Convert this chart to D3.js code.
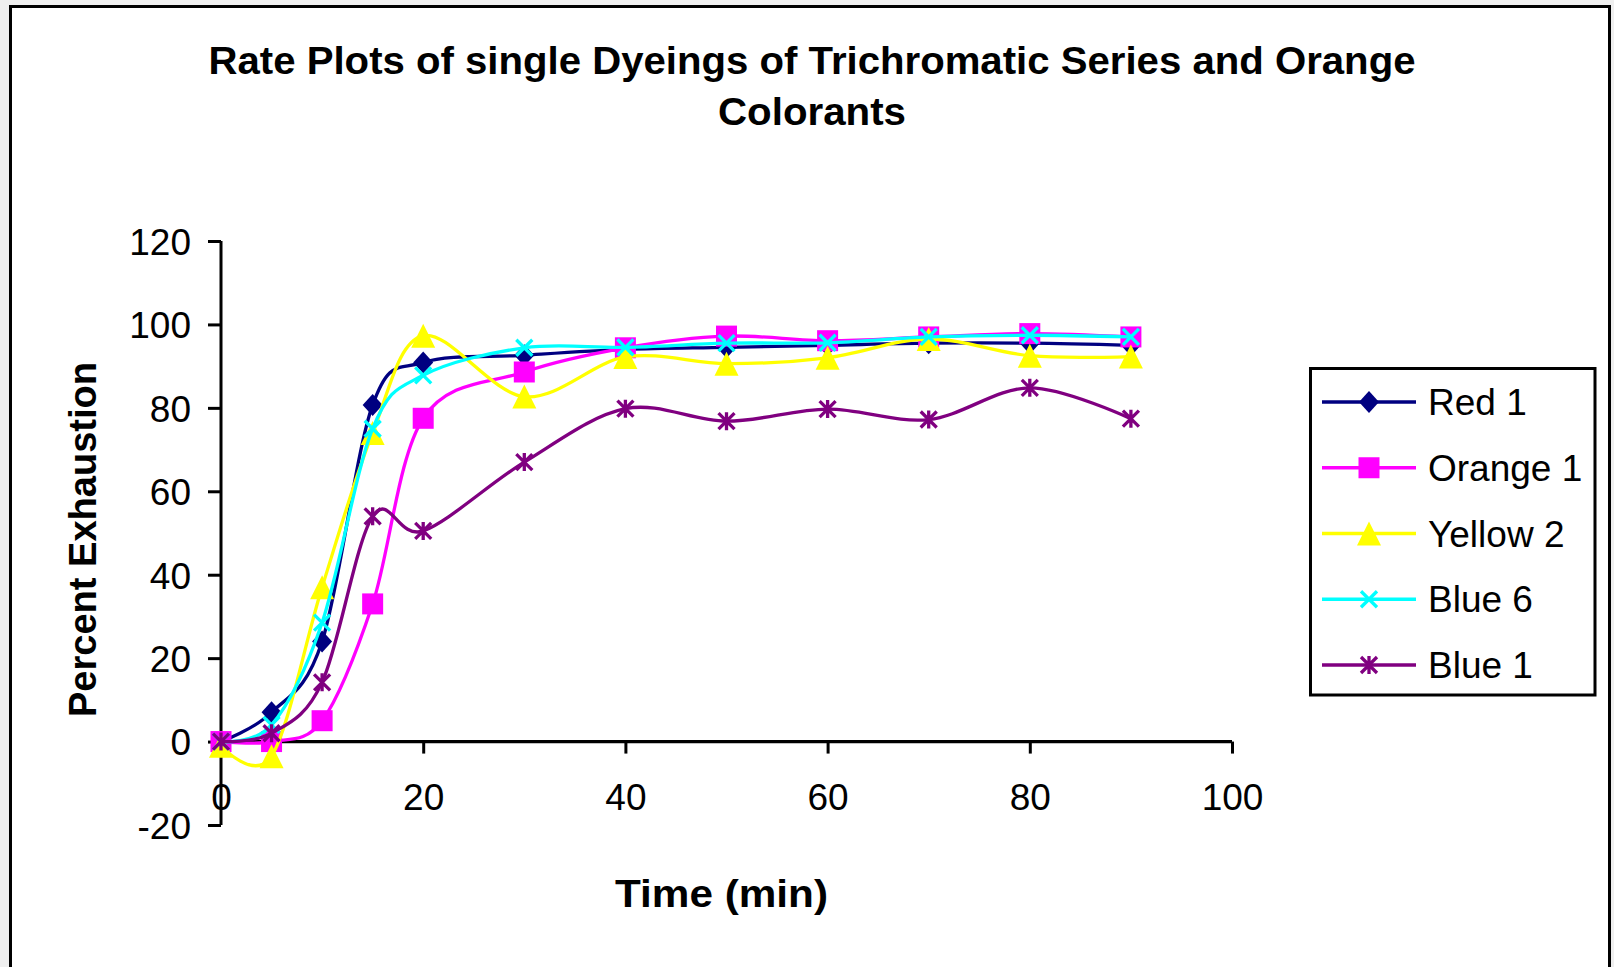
<!DOCTYPE html>
<html>
<head>
<meta charset="utf-8">
<script src="https://cdn.jsdelivr.net/npm/d3@7"></script>
<style>
  html, body { margin: 0; padding: 0; background: #efefef; }
  svg { display: block; }
  text { font-family: "Liberation Sans", Arial, sans-serif; fill: #000; }
</style>
</head>
<body>
<svg id="chart" width="1614" height="967"></svg>
<script>
// ---- data ----
const times = [0, 5, 10, 15, 20, 30, 40, 50, 60, 70, 80, 90];
const red1    = [0, 7, 24, 80.7, 90.9, 92.6, 94, 94.5, 95, 95.5, 95.5, 95];
const orange1 = [0, 0, 5, 33, 77.5, 88.6, 94.4, 97.2, 96.1, 97, 97.8, 97];
const yellow2 = [-1, -3.5, 37, 74, 97.3, 82.7, 92.2, 90.6, 92, 96.5, 92.5, 92.3];
const blue6   = [0, 4, 28.5, 75, 87.8, 94.4, 94.5, 95.5, 95.6, 97, 97.4, 97];
const blue1   = [0, 2, 14.2, 54, 50.5, 67, 79.8, 76.8, 79.7, 77.2, 84.8, 77.4];
const seriesNames = ["Red 1", "Orange 1", "Yellow 2", "Blue 6", "Blue 1"];
const xTicks = [0, 20, 40, 60, 80, 100];
const yTicks = [-20, 0, 20, 40, 60, 80, 100, 120];
const titleLines = ["Rate Plots of single Dyeings of Trichromatic Series and Orange", "Colorants"];
const xTitle = "Time (min)";
const yTitle = "Percent Exhaustion";

// ---- styles ----
const seriesValues = [red1, orange1, yellow2, blue6, blue1];
const colors = ["#000080", "#FF00FF", "#FFFF00", "#00FFFF", "#800080"];
const markers = ["diamond", "square", "triangle", "x", "star"];

const svg = d3.select("#chart");

// chart area
svg.append("rect").attr("x", 10.5).attr("y", 6.5).attr("width", 1599).attr("height", 1000)
  .attr("fill", "#fff").attr("stroke", "#000").attr("stroke-width", 3);

const x = d3.scaleLinear().domain([0, 100]).range([221, 1232]);
const y = d3.scaleLinear().domain([-20, 120]).range([825, 241]);

// title
svg.append("text").attr("x", 812).attr("y", 74).attr("text-anchor", "middle")
  .attr("font-size", 39).attr("font-weight", "bold")
  .attr("textLength", 1207).attr("lengthAdjust", "spacingAndGlyphs").text(titleLines[0]);
svg.append("text").attr("x", 812).attr("y", 125).attr("text-anchor", "middle")
  .attr("font-size", 39).attr("font-weight", "bold")
  .attr("textLength", 188).attr("lengthAdjust", "spacingAndGlyphs").text(titleLines[1]);

// axes
const fmt = d => String(d);
const yAxis = d3.axisLeft(y).tickValues(yTicks).tickSize(13).tickFormat(fmt);
const gy = svg.append("g").attr("transform", `translate(${x(0)},0)`).call(yAxis);
gy.select(".domain").attr("stroke", "#000").attr("stroke-width", 3).attr("d", `M0,${y(-20)}V${y(120)}`);
gy.selectAll(".tick line").attr("stroke", "#000").attr("stroke-width", 3);
gy.selectAll(".tick text").attr("font-size", 37).attr("font-family", "Liberation Sans, Arial")
  .attr("fill", "#000").attr("x", -30).attr("dy", "0.36em");

const xAxis = d3.axisBottom(x).tickValues(xTicks).tickSize(12).tickFormat(fmt);
const gx = svg.append("g").attr("transform", `translate(0,${y(0)})`).call(xAxis);
gx.select(".domain").attr("stroke", "#000").attr("stroke-width", 3.3).attr("d", `M${x(0)},0H${x(100)}`);
gx.selectAll(".tick line").attr("stroke", "#000").attr("stroke-width", 3)
  .filter(d => d === 0).remove();
gx.selectAll(".tick text").attr("font-size", 37).attr("font-family", "Liberation Sans, Arial")
  .attr("fill", "#000").attr("y", 68).attr("dy", 0);

// axis titles
svg.append("text").attr("x", 721.5).attr("y", 907).attr("text-anchor", "middle")
  .attr("font-size", 39).attr("font-weight", "bold")
  .attr("textLength", 213).attr("lengthAdjust", "spacingAndGlyphs").text(xTitle);
svg.append("text").attr("transform", "translate(96,539.5) rotate(-90)").attr("text-anchor", "middle")
  .attr("font-size", 38).attr("font-weight", "bold")
  .attr("textLength", 355).attr("lengthAdjust", "spacingAndGlyphs").text(yTitle);

// marker drawing
function drawMarker(g, type, cx, cy, color) {
  if (type === "diamond") {
    g.append("path").attr("d", `M${cx},${cy - 11}L${cx + 10},${cy}L${cx},${cy + 11}L${cx - 10},${cy}Z`)
      .attr("fill", color);
  } else if (type === "square") {
    g.append("rect").attr("x", cx - 10.5).attr("y", cy - 10.5).attr("width", 21).attr("height", 21)
      .attr("fill", color);
  } else if (type === "triangle") {
    g.append("path").attr("d", `M${cx},${cy - 12}L${cx + 12},${cy + 12}L${cx - 12},${cy + 12}Z`)
      .attr("fill", color);
  } else if (type === "x") {
    g.append("path").attr("d", `M${cx - 8},${cy - 8}L${cx + 8},${cy + 8}M${cx + 8},${cy - 8}L${cx - 8},${cy + 8}`)
      .attr("stroke", color).attr("stroke-width", 3.3).attr("fill", "none");
  } else if (type === "star") {
    g.append("path").attr("d", `M${cx - 8},${cy - 8}L${cx + 8},${cy + 8}M${cx + 8},${cy - 8}L${cx - 8},${cy + 8}M${cx},${cy - 9}L${cx},${cy + 9}`)
      .attr("stroke", color).attr("stroke-width", 3.3).attr("fill", "none");
  }
}

const line = d3.line().x(d => x(d[0])).y(d => y(d[1])).curve(d3.curveCatmullRom.alpha(0));

seriesValues.forEach((vals, i) => {
  const pts = times.map((t, j) => [t, vals[j]]);
  const g = svg.append("g");
  g.append("path").datum(pts).attr("d", line).attr("fill", "none")
    .attr("stroke", colors[i]).attr("stroke-width", 3.3);
  pts.forEach(p => drawMarker(g, markers[i], x(p[0]), y(p[1]), colors[i]));
});

// legend
svg.append("rect").attr("x", 1310.5).attr("y", 368.5).attr("width", 284.5).attr("height", 326.5)
  .attr("fill", "#fff").attr("stroke", "#000").attr("stroke-width", 3);
const ly = d3.scalePoint().domain(seriesNames).range([402, 665]);
seriesNames.forEach((name, i) => {
  const g = svg.append("g");
  const yy = ly(name);
  g.append("line").attr("x1", 1322).attr("x2", 1416).attr("y1", yy).attr("y2", yy)
    .attr("stroke", colors[i]).attr("stroke-width", 3.3);
  drawMarker(g, markers[i], 1369, yy, colors[i]);
  g.append("text").attr("x", 1428).attr("y", yy + 13).attr("font-size", 37).text(name);
});
</script>
</body>
</html>
